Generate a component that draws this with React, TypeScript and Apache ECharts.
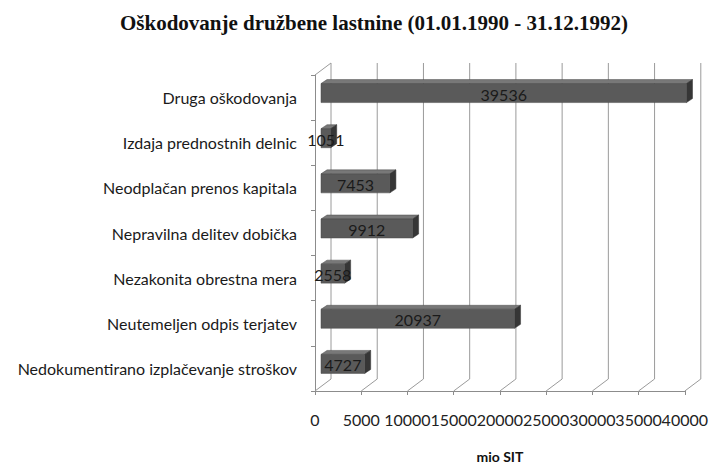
import React, { useEffect, useRef } from "react";
import * as echarts from "echarts";

const categories = [
  "Druga oškodovanja",
  "Izdaja prednostnih delnic",
  "Neodplačan prenos kapitala",
  "Nepravilna delitev dobička",
  "Nezakonita obrestna mera",
  "Neutemeljen odpis terjatev",
  "Nedokumentirano izplačevanje stroškov",
];
const values = [39536, 1051, 7453, 9912, 2558, 20937, 4727];
const ticks = [0, 5000, 10000, 15000, 20000, 25000, 30000, 35000, 40000];
const titleText = "Oškodovanje družbene lastnine (01.01.1990 - 31.12.1992)";
const axisName = "mio SIT";

const DX = 16; // wall depth
const DY = 12;
const BX = 6; // bar offset / depth
const BY = 4;

export default function App() {
  const ref = useRef<HTMLDivElement>(null);
  useEffect(() => {
    if (!ref.current) return;
    const chart = echarts.init(ref.current, null, { renderer: "svg" });
    const lineColor = "#9a9a9a";
    chart.setOption({
      animation: false,
      backgroundColor: "#ffffff",
      graphic: [
        {
          type: "text",
          x: 374,
          y: 23,
          style: {
            text: titleText,
            font: 'bold 21px "Liberation Serif"',
            fill: "#111",
            textAlign: "center",
            textVerticalAlign: "middle",
          },
        },
      ],
      grid: { left: 315, right: 23, top: 75, bottom: 71, containLabel: false },
      xAxis: {
        type: "value",
        min: 0,
        max: 40000,
        interval: 5000,
        splitLine: { show: false },
        axisLine: { show: true, lineStyle: { color: "#8c8c8c", width: 1 } },
        axisTick: { show: true, length: 4, lineStyle: { color: "#8c8c8c" } },
        axisLabel: {
          margin: 20,
          fontFamily: "Lato",
          fontSize: 16,
          color: "#222",
          formatter: (v: number) => String(v),
        },
        name: axisName,
        nameLocation: "middle",
        nameGap: 58,
        nameTextStyle: {
          fontFamily: "Lato",
          fontWeight: "bold",
          fontSize: 14,
          color: "#111",
        },
      },
      yAxis: {
        type: "category",
        inverse: true,
        data: categories,
        axisLine: { show: true, lineStyle: { color: "#8c8c8c", width: 1 } },
        axisTick: { show: true, length: 4, lineStyle: { color: "#8c8c8c" } },
        axisLabel: {
          margin: 18,
          fontFamily: "Lato",
          fontSize: 16,
          color: "#1a1a1a",
          padding: [3, 0, 0, 0],
        },
        splitLine: { show: false },
      },
      series: [
        {
          type: "custom",
          silent: true,
          z: 1,
          data: ticks.map((t) => [t, 0]),
          renderItem: (params: any, api: any) => {
            const cs = params.coordSys;
            const v = api.value(0);
            const x = api.coord([v, 0])[0];
            const bottom = cs.y + cs.height;
            const top = cs.y;
            const children: any[] = [
              {
                type: "polyline",
                shape: {
                  points: [
                    [x, bottom],
                    [x + DX, bottom - DY],
                    [x + DX, top - DY],
                  ],
                },
                style: { stroke: lineColor, lineWidth: 1, fill: null },
              },
            ];
            if (v === 0) {
              children.push({
                type: "line",
                shape: { x1: x, y1: top, x2: x + DX, y2: top - DY },
                style: { stroke: lineColor, lineWidth: 1 },
              });
            }
            return { type: "group", children };
          },
        },
        {
          type: "custom",
          silent: true,
          z: 3,
          data: values.map((v, i) => [v, i]),
          renderItem: (params: any, api: any) => {
            const v = api.value(0);
            const idx = api.value(1);
            const p0 = api.coord([0, idx]);
            const p1 = api.coord([v, idx]);
            const x0 = p0[0] + BX;
            const x1 = p1[0] + BX;
            const yc = p0[1] - 4.5;
            const h = 19;
            const yT = yc - h / 2;
            const yB = yc + h / 2;
            return {
              type: "group",
              children: [
                {
                  type: "polygon",
                  shape: {
                    points: [
                      [x0, yT],
                      [x0 + BX, yT - BY],
                      [x1 + BX, yT - BY],
                      [x1, yT],
                    ],
                  },
                  style: { fill: "#787878", stroke: "#4a4a4a", lineWidth: 0.5 },
                },
                {
                  type: "polygon",
                  shape: {
                    points: [
                      [x1, yT],
                      [x1 + BX, yT - BY],
                      [x1 + BX, yB - BY],
                      [x1, yB],
                    ],
                  },
                  style: { fill: "#363636", stroke: "#333", lineWidth: 0.5 },
                },
                {
                  type: "rect",
                  shape: { x: x0, y: yT, width: x1 - x0, height: h },
                  style: { fill: "#5a5a5a", stroke: "#4a4a4a", lineWidth: 0.5 },
                },
                {
                  type: "text",
                  x: (x0 + x1) / 2,
                  y: yc + 1,
                  style: {
                    text: String(v),
                    font: '16px "Lato"',
                    fill: "#1a1a1a",
                    textAlign: "center",
                    textVerticalAlign: "middle",
                  },
                },
              ],
            };
          },
        },
      ],
    });
    return () => chart.dispose();
  }, []);
  return (
    <div
      ref={ref}
      style={{ position: "fixed", left: 0, top: 0, width: 711, height: 468 }}
    />
  );
}
